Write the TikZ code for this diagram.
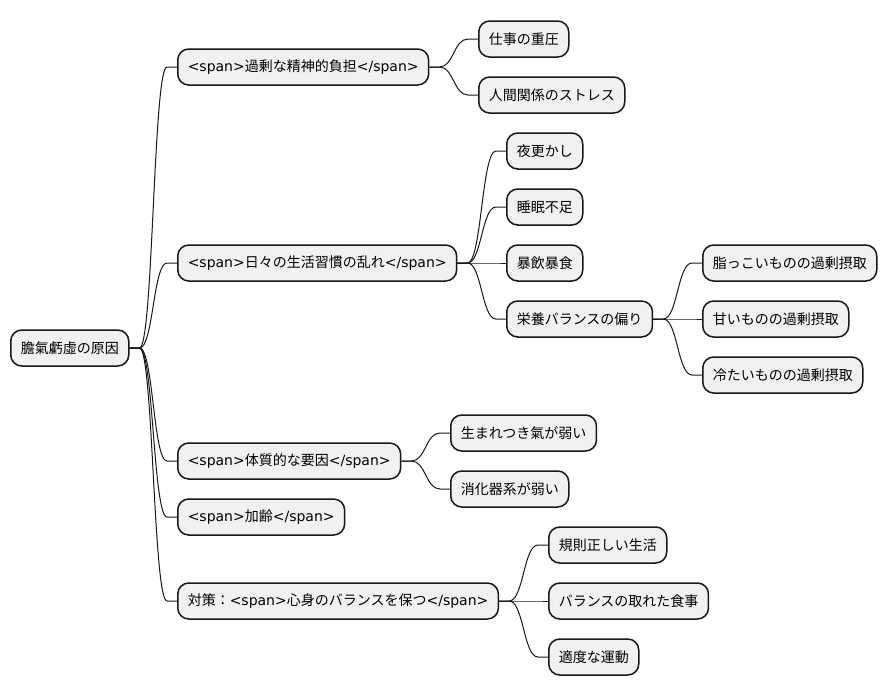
\documentclass[tikz,border=0pt]{standalone}
\usepackage{fontspec}
\setmainfont{Noto Sans CJK JP}
\newfontfamily\lat{DejaVu Sans}
\usetikzlibrary{calc}
\definecolor{boxfill}{HTML}{F1F1F1}
\definecolor{boxline}{HTML}{181818}
\newcommand\spn[1]{{\lat<span>}#1{\lat</span>}}
\tikzset{
  mm/.style={draw=boxline, fill=boxfill, line width=1.5pt, rounded corners=11pt,
    minimum height=36pt, inner xsep=10pt, inner ysep=0pt, anchor=west,
    font=\fontsize{14pt}{16pt}\selectfont, text=black},
  conn/.style={draw=boxline, line width=1pt}
}
\newcommand\link[2]{\draw[conn] let \p1=(#1.east), \p2=(#2.west) in
  (\p1) -- (\x1+10pt,\y1) .. controls ({(\x1+\x2)/2},\y1) and ({(\x1+\x2)/2},\y2) .. (\x2-10pt,\y2) -- (\p2);}
\begin{document}
\begin{tikzpicture}[x=1pt,y=-1pt]
\useasboundingbox[fill=white] (0,0) rectangle (887,696);
\node[mm] (r) at (10,348) {膽氣虧虛の原因};
\node[mm] (a) at (177,67) {\spn{過剰な精神的負担}};
\node[mm] (a1) at (478,39) {仕事の重圧};
\node[mm] (a2) at (478,95) {人間関係のストレス};
\node[mm] (b) at (177,263) {\spn{日々の生活習慣の乱れ}};
\node[mm] (b1) at (506,151) {夜更かし};
\node[mm] (b2) at (506,207) {睡眠不足};
\node[mm] (b3) at (506,263) {暴飲暴食};
\node[mm] (b4) at (506,319) {栄養バランスの偏り};
\node[mm] (b41) at (702,263) {脂っこいものの過剰摂取};
\node[mm] (b42) at (702,319) {甘いものの過剰摂取};
\node[mm] (b43) at (702,375) {冷たいものの過剰摂取};
\node[mm] (c) at (177,461) {\spn{体質的な要因}};
\node[mm] (c1) at (450,433) {生まれつき氣が弱い};
\node[mm] (c2) at (450,489) {消化器系が弱い};
\node[mm] (d) at (177,517) {\spn{加齢}};
\node[mm] (e) at (177,601) {対策：\spn{心身のバランスを保つ}};
\node[mm] (e1) at (548,545) {規則正しい生活};
\node[mm] (e2) at (548,601) {バランスの取れた食事};
\node[mm] (e3) at (548,657) {適度な運動};
\link{r}{a}\link{r}{b}\link{r}{c}\link{r}{d}\link{r}{e}
\link{a}{a1}\link{a}{a2}
\link{b}{b1}\link{b}{b2}\link{b}{b3}\link{b}{b4}
\link{b4}{b41}\link{b4}{b42}\link{b4}{b43}
\link{c}{c1}\link{c}{c2}
\link{e}{e1}\link{e}{e2}\link{e}{e3}
\end{tikzpicture}
\end{document}
